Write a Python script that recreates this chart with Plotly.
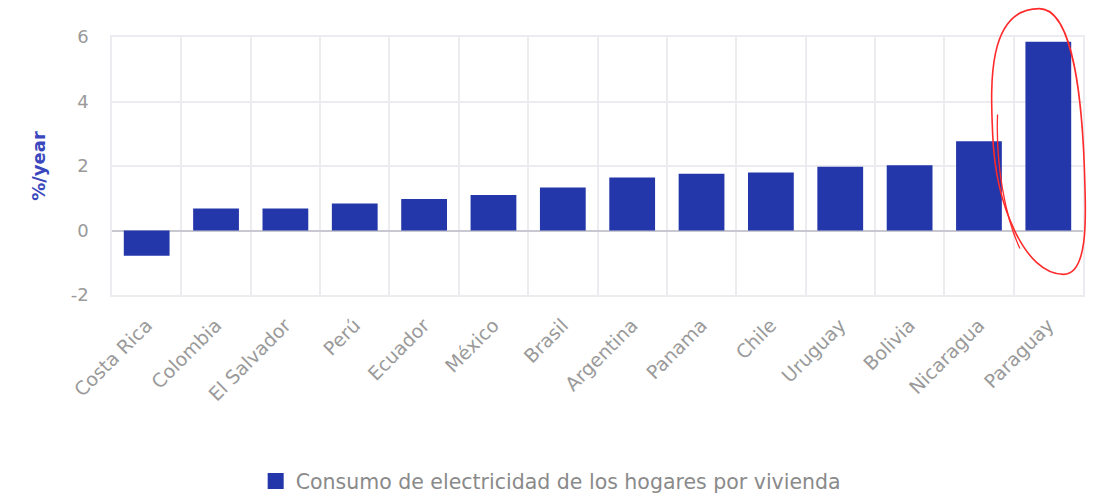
import plotly.graph_objects as go

countries = ["Costa Rica", "Colombia", "El Salvador", "Perú", "Ecuador", "México", "Brasil",
             "Argentina", "Panama", "Chile", "Uruguay", "Bolivia", "Nicaragua", "Paraguay"]
values = [-0.78, 0.68, 0.68, 0.84, 0.98, 1.1, 1.33, 1.64, 1.76, 1.8, 1.98, 2.02, 2.77, 5.85]
series_name = "Consumo de electricidad de los hogares por vivienda"
y_ticks = [-2, 0, 2, 4, 6]
y_tick_text = ["-2", "0", "2", "4", "6"]

FONT = "DejaVu Sans"
GRAY = "#9a9a9a"
BLUE = "#2336aa"
GRID = "#ebebf0"

fig = go.Figure()
fig.add_trace(go.Bar(
    x=countries, y=values, name=series_name,
    marker=dict(color=BLUE, line=dict(width=0)),
    showlegend=False,
))
# legend entry with a larger square marker
fig.add_trace(go.Scatter(
    x=[None], y=[None], mode="markers", name=series_name,
    marker=dict(symbol="square", size=22, color=BLUE),
    showlegend=True,
))

fig.update_layout(
    width=1108, height=498,
    margin=dict(l=112, r=25, t=37, b=203, autoexpand=False),
    paper_bgcolor="white", plot_bgcolor="white",
    bargap=0.34,
    showlegend=True,
    legend=dict(orientation="h", xref="container", x=0.497, xanchor="center",
                yref="container", y=0.034, yanchor="middle",
                font=dict(family=FONT, size=20.5, color="#8a8a8a"),
                itemsizing="trace"),
    font=dict(family=FONT),
)
fig.update_xaxes(
    type="category", tickangle=-45, tickson="boundaries",
    showgrid=True, gridcolor=GRID, gridwidth=1.5,
    showline=True, linecolor=GRID, linewidth=1.5, mirror=True,
    ticks="", tickfont=dict(family=FONT, size=19, color=GRAY),
    ticklabelstandoff=10, automargin=False,
)
fig.update_yaxes(
    range=[-2, 6], tickvals=y_ticks, ticktext=y_tick_text,
    showgrid=True, gridcolor=GRID, gridwidth=1.5,
    showline=True, linecolor=GRID, linewidth=1.5, mirror=True,
    zeroline=True, zerolinecolor="#c8c8d0", zerolinewidth=1.5,
    tickfont=dict(family=FONT, size=18, color=GRAY),
    ticklabelstandoff=18, automargin=False,
    title=dict(text="<b>%/year</b>", font=dict(family=FONT, size=18, color="#3a47bd"), standoff=20),
)

# hand-drawn red ellipse highlighting the last bar
fig.add_shape(type="path", xref="paper", yref="paper",
              path="M 0.955,1.11 C 0.90,1.11 0.905,0.80 0.907,0.62 "
                   "C 0.91,0.35 0.94,0.08 0.98,0.08 "
                   "C 1.005,0.08 1.003,0.30 1.002,0.42 "
                   "C 1.0,0.75 0.99,1.11 0.955,1.11 Z",
              line=dict(color="#ff2a2a", width=1.6))
fig.add_shape(type="path", xref="paper", yref="paper",
              path="M 0.912,0.70 C 0.91,0.50 0.92,0.30 0.935,0.18",
              line=dict(color="#ff2a2a", width=1.3))

fig.write_html("out.html")
